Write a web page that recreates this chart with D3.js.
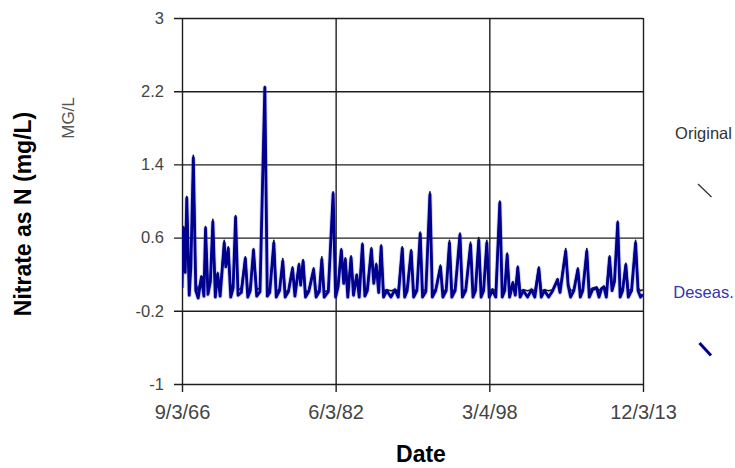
<!DOCTYPE html>
<html>
<head>
<meta charset="utf-8">
<script src="https://cdn.jsdelivr.net/npm/d3@7/dist/d3.min.js"></script>
<style>
  html, body { margin: 0; padding: 0; background: #fff; }
  svg { display: block; font-family: "Liberation Sans", Arial, sans-serif; }
</style>
</head>
<body>
<svg id="chart" width="735" height="468"></svg>
<script>
// Sample dates (year-month) shared by both series
const dates = [
  "1966-09","1966-11","1967-01","1967-03","1967-06","1967-08","1967-11","1968-02","1968-05","1968-09",
  "1968-12","1969-02","1969-05","1969-08","1969-11","1970-02","1970-05","1970-08","1971-01","1971-03",
  "1971-06","1971-09","1971-12","1972-03","1972-06","1972-10","1973-03","1973-06","1973-09","1974-01",
  "1974-05","1974-09","1975-03","1975-06","1975-09","1976-02","1976-05","1976-09","1977-01","1977-04",
  "1977-08","1978-01","1978-04","1978-09","1978-11","1979-02","1979-05","1979-09","1980-03","1980-06",
  "1980-10","1981-01","1981-04","1981-09","1982-03","1982-06","1982-09","1983-01","1983-04","1983-06",
  "1983-09","1984-01","1984-04","1984-08","1984-11","1985-03","1985-06","1985-09","1986-02","1986-05",
  "1986-08","1986-11","1987-02","1987-05","1987-09","1988-02","1988-07","1988-11","1989-04","1989-07",
  "1989-10","1990-03","1990-06","1990-10","1991-02","1991-05","1991-09","1992-02","1992-05","1992-09",
  "1993-03","1993-06","1993-10","1994-02","1994-05","1994-09","1995-03","1995-06","1995-10","1996-04",
  "1996-07","1996-10","1997-02","1997-05","1997-08","1997-12","1998-03","1998-07","1998-11","1999-04",
  "1999-07","1999-10","2000-01","2000-04","2000-08","2000-11","2001-02","2001-05","2001-09","2002-02",
  "2002-07","2002-11","2003-04","2003-07","2003-11","2004-04","2004-09","2005-03","2005-06","2006-01",
  "2006-04","2006-07","2006-11","2007-04","2007-07","2007-10","2008-03","2008-06","2008-10","2009-03",
  "2009-06","2009-09","2009-12","2010-03","2010-07","2010-10","2011-01","2011-05","2011-08","2011-11",
  "2012-03","2012-06","2012-10","2013-03","2013-06","2013-09","2013-12"
];

// Nitrate as N (mg/L), original record
const original = [
  0.06,0.72,0.25,1.05,0.05,0.30,1.50,0.10,0.02,0.18,
  0.03,0.72,0.05,0.15,0.80,0.05,0.22,0.02,0.57,0.30,
  0.50,0.03,0.10,0.84,0.02,0.05,0.39,0.02,0.05,0.48,
  0.03,0.05,2.25,0.03,0.02,0.57,0.02,0.03,0.37,0.01,
  0.02,0.28,0.01,0.32,0.10,0.36,0.01,0.02,0.27,0.01,
  0.02,0.39,0.01,0.02,1.10,0.02,0.10,0.48,0.12,0.38,
  0.02,0.40,0.03,0.20,0.02,0.54,0.03,0.05,0.49,0.12,
  0.32,0.05,0.52,0.02,0.03,0.02,0.03,0.02,0.50,0.02,
  0.05,0.47,0.02,0.03,0.66,0.02,0.03,1.10,0.02,0.03,
  0.30,0.01,0.03,0.57,0.02,0.03,0.65,0.02,0.03,0.55,
  0.02,0.04,0.60,0.02,0.04,0.57,0.02,0.04,0.02,1.00,
  0.02,0.04,0.43,0.02,0.12,0.02,0.29,0.02,0.03,0.02,
  0.03,0.02,0.28,0.02,0.03,0.02,0.03,0.15,0.03,0.48,
  0.10,0.02,0.03,0.27,0.02,0.03,0.48,0.02,0.05,0.06,
  0.02,0.05,0.07,0.02,0.40,0.05,0.15,0.78,0.02,0.05,
  0.32,0.02,0.04,0.57,0.05,0.02,0.03
];

// Deseasonalized record
const deseasonalized = [
  0.05,0.70,0.22,1.03,-0.03,0.28,1.47,0.02,-0.06,0.17,
  -0.04,0.70,-0.02,0.12,0.77,-0.05,0.20,-0.04,0.54,0.28,
  0.48,-0.05,0.05,0.82,-0.03,0.00,0.37,-0.05,0.02,0.46,
  -0.04,0.01,2.24,-0.04,0.00,0.54,-0.05,0.02,0.34,-0.05,
  0.01,0.26,-0.04,0.30,0.08,0.34,-0.05,0.01,0.25,-0.05,
  0.01,0.36,-0.05,0.01,1.08,-0.05,0.06,0.46,0.10,0.36,
  -0.05,0.38,-0.03,0.19,-0.05,0.52,-0.04,0.02,0.47,0.10,
  0.30,0.00,0.50,-0.05,0.02,-0.05,0.03,-0.05,0.48,-0.05,
  0.02,0.45,-0.05,0.02,0.64,-0.05,0.01,1.07,-0.05,0.02,
  0.28,-0.05,0.02,0.54,-0.05,0.02,0.63,-0.05,0.02,0.52,
  -0.05,0.02,0.57,-0.05,0.02,0.54,-0.05,0.02,-0.05,0.98,
  -0.05,0.02,0.41,-0.05,0.10,-0.03,0.27,-0.05,0.02,-0.05,
  0.03,-0.05,0.26,-0.05,0.02,-0.05,0.02,0.14,0.00,0.45,
  0.08,-0.05,0.02,0.25,-0.05,0.02,0.45,-0.05,0.03,0.05,
  -0.05,0.04,0.06,-0.05,0.38,0.02,0.12,0.76,-0.05,0.02,
  0.30,-0.05,0.02,0.54,0.02,-0.05,-0.02
];

const yTicks = [-1, -0.2, 0.6, 1.4, 2.2, 3];
const xTickDates = ["1966-09-03", "1982-06-03", "1998-03-04", "2013-12-03"];
const seriesNames = ["Original", "Deseas."];

const parseMonth = d3.timeParse("%Y-%m");
const parseDay = d3.timeParse("%Y-%m-%d");
const fmtTick = d => `${d.getMonth() + 1}/${d.getDate()}/${d3.timeFormat("%y")(d)}`;

const svg = d3.select("#chart");
const plotLeft = 182, plotRight = 643, plotTop = 18, plotBottom = 384;

const xTicks = xTickDates.map(parseDay);
const x = d3.scaleTime().domain([xTicks[0], xTicks[xTicks.length - 1]]).range([plotLeft, plotRight]);
const y = d3.scaleLinear().domain([-1, 3]).range([plotBottom, plotTop]);

const gridColor = "#1e1e1e";

// Horizontal grid with left tick stubs
svg.append("g")
  .attr("transform", `translate(${plotLeft},0)`)
  .call(d3.axisLeft(y).tickValues(yTicks).tickSize(-(plotRight - plotLeft)).tickSizeOuter(0).tickPadding(18)
    .tickFormat(d => String(+d.toFixed(1))))
  .call(g => g.select(".domain").remove())
  .call(g => g.selectAll(".tick line").attr("stroke", gridColor).attr("stroke-width", 1.4).attr("x1", -8))
  .call(g => g.selectAll(".tick text").attr("fill", "#444").attr("font-size", 16.5)
    .attr("font-family", "Liberation Sans, Arial, sans-serif"));

// Vertical grid with bottom tick stubs
svg.append("g")
  .attr("transform", `translate(0,${plotBottom})`)
  .call(d3.axisBottom(x).tickValues(xTicks).tickSize(-(plotBottom - plotTop)).tickSizeOuter(0).tickPadding(21).tickFormat(fmtTick))
  .call(g => g.select(".domain").remove())
  .call(g => g.selectAll(".tick line").attr("stroke", gridColor).attr("stroke-width", 1.4).attr("y1", 8))
  .call(g => g.selectAll(".tick text").attr("fill", "#444").attr("font-size", 20)
    .attr("font-family", "Liberation Sans, Arial, sans-serif"));

const pts = dates.map((d, i) => ({ date: parseMonth(d), o: original[i], s: deseasonalized[i] }));

const lineO = d3.line().x(d => x(d.date)).y(d => y(d.o));
const lineS = d3.line().x(d => x(d.date)).y(d => y(d.s));

svg.append("clipPath").attr("id", "plot-clip")
  .append("rect").attr("x", plotLeft).attr("y", plotTop).attr("width", plotRight - plotLeft).attr("height", plotBottom - plotTop);

const plot = svg.append("g").attr("clip-path", "url(#plot-clip)");
plot.append("path").datum(pts).attr("d", lineO)
  .attr("fill", "none").attr("stroke", "#111").attr("stroke-width", 1.6).attr("stroke-linejoin", "round");
plot.append("path").datum(pts).attr("d", lineS)
  .attr("fill", "none").attr("stroke", "rgba(60,60,200,0.25)").attr("stroke-width", 4.6).attr("stroke-linejoin", "round");
plot.append("path").datum(pts).attr("d", lineS)
  .attr("fill", "none").attr("stroke", "#00008f").attr("stroke-width", 2.8).attr("stroke-linejoin", "round");

// Axis titles
svg.append("text").attr("x", 421).attr("y", 462).attr("text-anchor", "middle")
  .attr("font-size", 23).attr("font-weight", "bold").attr("fill", "#000").text("Date");
svg.append("text").attr("transform", "translate(31,214) rotate(-90)").attr("text-anchor", "middle")
  .attr("font-size", 23).attr("font-weight", "bold").attr("fill", "#000").text("Nitrate as N (mg/L)");
svg.append("text").attr("transform", "translate(74,118) rotate(-90)").attr("text-anchor", "middle")
  .attr("font-size", 17).attr("fill", "#555").text("MG/L");

// Legend
svg.append("text").attr("x", 703.5).attr("y", 139).attr("text-anchor", "middle")
  .attr("font-size", 16.5).attr("fill", "#333").text(seriesNames[0]);
svg.append("line").attr("x1", 698).attr("y1", 184).attr("x2", 711.5).attr("y2", 197)
  .attr("stroke", "#333").attr("stroke-width", 1.3);
svg.append("text").attr("x", 703.5).attr("y", 298).attr("text-anchor", "middle")
  .attr("font-size", 16.5).attr("fill", "#3535b0").text(seriesNames[1]);
svg.append("line").attr("x1", 699.5).attr("y1", 343).attr("x2", 711).attr("y2", 355.5)
  .attr("stroke", "#00008f").attr("stroke-width", 3);
</script>
</body>
</html>
